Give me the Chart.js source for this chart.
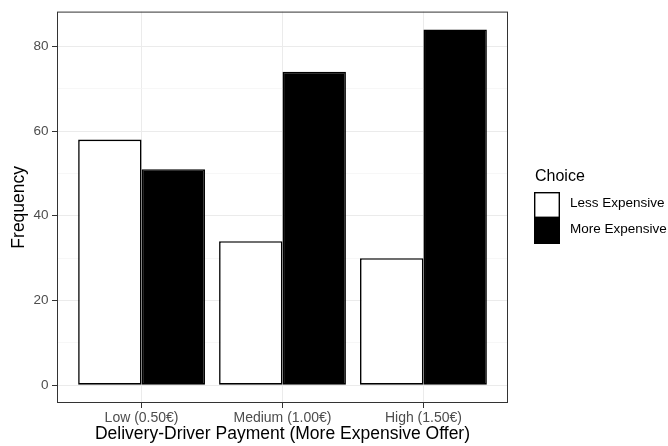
<!DOCTYPE html>
<html>
<head>
<meta charset="utf-8">
<script src="https://cdn.jsdelivr.net/npm/chart.js@4.4.1/dist/chart.umd.min.js"></script>
<style>
  html, body { margin: 0; padding: 0; background: #fff; }
  #wrap { width: 668px; height: 446px; position: relative; }
</style>
</head>
<body>
<div id="wrap"><canvas id="chart"></canvas></div>
<script>
// --- data ---
const categories = ['Low (0.50€)', 'Medium (1.00€)', 'High (1.50€)'];
const lessExpensive = [58, 34, 30];
const moreExpensive = [51, 74, 84];
const seriesNames = ['Less Expensive', 'More Expensive'];
const yTicks = [0, 10, 20, 30, 40, 50, 60, 70, 80];
const yLabelStep = 20;

const FONT = "'Liberation Sans', Arial, sans-serif";

// kotak panel ala theme_bw + legenda manual
const panelAndLegend = {
  id: 'panelAndLegend',
  afterDraw(chart) {
    const { ctx, chartArea: a } = chart;
    ctx.save();
    ctx.strokeStyle = '#333333';
    ctx.lineWidth = 1;
    ctx.strokeRect(a.left + 0.5, a.top + 0.5, a.right - a.left - 1, a.bottom - a.top - 1);

    // legenda
    const x0 = 534, y0 = 192, kw = 26, kh = 26;
    ctx.fillStyle = '#000';
    ctx.font = '16px ' + FONT;
    ctx.textBaseline = 'alphabetic';
    ctx.fillText('Choice', 535, 181);
    chart.data.datasets.forEach((ds, i) => {
      const y = y0 + i * kh;
      ctx.fillStyle = ds.backgroundColor;
      ctx.fillRect(x0, y, kw, kh);
      ctx.strokeStyle = '#000';
      ctx.lineWidth = 1.4;
      ctx.strokeRect(x0 + 0.7, y + 0.7, kw - 1.4, kh - 1.4);
      ctx.fillStyle = '#000';
      ctx.font = '13.5px ' + FONT;
      ctx.fillText(ds.label, 570, y + 14.7);
    });
    ctx.restore();
  }
};

new Chart(document.getElementById('chart'), {
  type: 'bar',
  data: {
    datasets: [
      {
        label: seriesNames[0],
        data: lessExpensive.map((v, i) => ({ x: i + 1, y: v })),
        backgroundColor: '#ffffff',
        borderColor: '#000000',
        borderWidth: 1.6,
        borderSkipped: false
      },
      {
        label: seriesNames[1],
        data: moreExpensive.map((v, i) => ({ x: i + 1, y: v })),
        backgroundColor: '#000000',
        borderColor: '#000000',
        borderWidth: 1.6,
        borderSkipped: false
      }
    ]
  },
  options: {
    responsive: true,
    maintainAspectRatio: false,
    animation: false,
    categoryPercentage: 0.9,
    barPercentage: 1.0,
    layout: { padding: { top: 8, right: 160, left: 0, bottom: 0 } },
    plugins: { legend: { display: false }, tooltip: { enabled: false } },
    scales: {
      x: {
        type: 'linear',
        min: 0.4,
        max: 3.6,
        offset: false,
        afterBuildTicks: (s) => { s.ticks = categories.map((c, i) => ({ value: i + 1 })); },
        afterFit: (s) => { s.height = 43; },
        border: { display: false },
        grid: { offset: false, color: '#EBEBEB', lineWidth: 1, tickColor: '#333333', tickLength: 5 },
        ticks: {
          autoSkip: false, maxRotation: 0, padding: 2,
          color: '#4D4D4D', font: { family: FONT, size: 14 },
          callback: (v) => categories[v - 1] || ''
        },
        title: {
          display: true, text: 'Delivery-Driver Payment (More Expensive Offer)',
          color: '#000', font: { family: FONT, size: 17.5 }, padding: { top: 0, bottom: 1 }
        }
      },
      y: {
        min: -4.2,
        max: 88.2,
        afterBuildTicks: (s) => { s.ticks = yTicks.map(v => ({ value: v })); },
        afterFit: (s) => { s.width = 57; },
        border: { display: false },
        grid: {
          color: (c) => (c.tick && c.tick.value % yLabelStep === 0) ? '#EBEBEB' : '#F4F4F4',
          lineWidth: (c) => (c.tick && c.tick.value % yLabelStep === 0) ? 1 : 0.7,
          tickColor: (c) => (c.tick && c.tick.value % yLabelStep === 0) ? '#333333' : 'rgba(0,0,0,0)',
          tickLength: 5
        },
        ticks: {
          padding: 3.5,
          color: '#4D4D4D', font: { family: FONT, size: 13.5 },
          callback: (v) => (v % yLabelStep === 0 ? v : '')
        },
        title: {
          display: true, text: 'Frequency',
          color: '#000', font: { family: FONT, size: 17.5 }, padding: { top: 9, bottom: 0 }
        }
      }
    }
  },
  plugins: [panelAndLegend]
});
</script>
</body>
</html>
